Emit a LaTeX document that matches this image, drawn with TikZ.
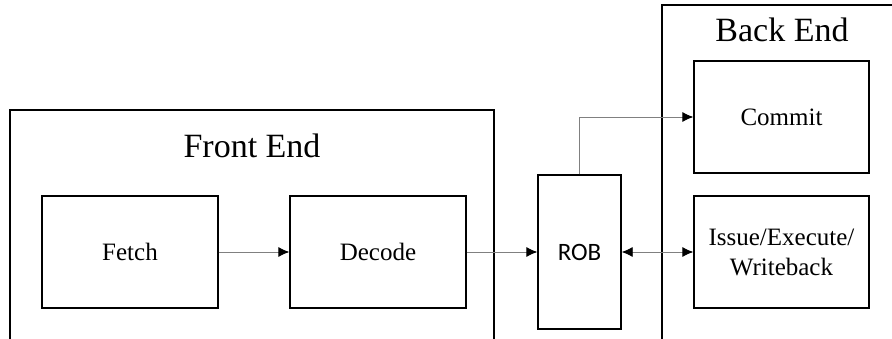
\documentclass[tikz,border=0pt]{standalone}
\usepackage{fontspec}
\setmainfont{Liberation Serif}
\newfontfamily\robfont{Carlito}
\usetikzlibrary{arrows.meta}

\tikzset{
	stage/.style={draw, line width=1.3pt, minimum width=176pt, minimum height=112pt,
		inner sep=0pt, align=center, font=\fontsize{25}{30}\selectfont},
	title/.style={anchor=base, inner sep=0pt, font=\fontsize{34}{40}\selectfont},
	link/.style={draw=gray, line width=0.8pt, -{Latex[length=11pt,width=10pt,black]}},
	twolink/.style={draw=gray, line width=0.8pt, {Latex[length=11pt,width=10pt,black]}-{Latex[length=11pt,width=10pt,black]}}
}

\begin{document}
\begin{tikzpicture}[x=1pt,y=-1pt]
		\useasboundingbox (0,0) rectangle (892,339);
		
		% front and back end frames
		\draw[line width=1.3pt] (10,339) -- (10,110) -- (494,110) -- (494,339);
		\draw[line width=1.3pt] (662,339) -- (662,5) -- (892,5);
		\node[title] (fronttitle) at (252,158) {Front End};
		\node[title] (backtitle) at (782,42) {Back End};
		
		\node[stage] (fetch) at (130,252) {Fetch};
		\node[stage] (decode) at (378,252) {Decode};
		\node[stage, minimum width=83pt, minimum height=154pt, font=\fontsize{25}{30}\robfont] (rob) at (579.5,252) {ROB};
		\node[stage, minimum width=175pt] (commit) at (781.5,117) {Commit};
		\node[stage, minimum width=175pt] (issue) at (781.5,252) {Issue/Execute/\\Writeback};
		
		\draw[link] (fetch) -- (decode);
		\draw[link] (decode) -- (rob);
		\draw[link] (rob.north) |- (commit.west);
		\draw[twolink] (rob) -- (issue);
		
	\end{tikzpicture}
\end{document}
